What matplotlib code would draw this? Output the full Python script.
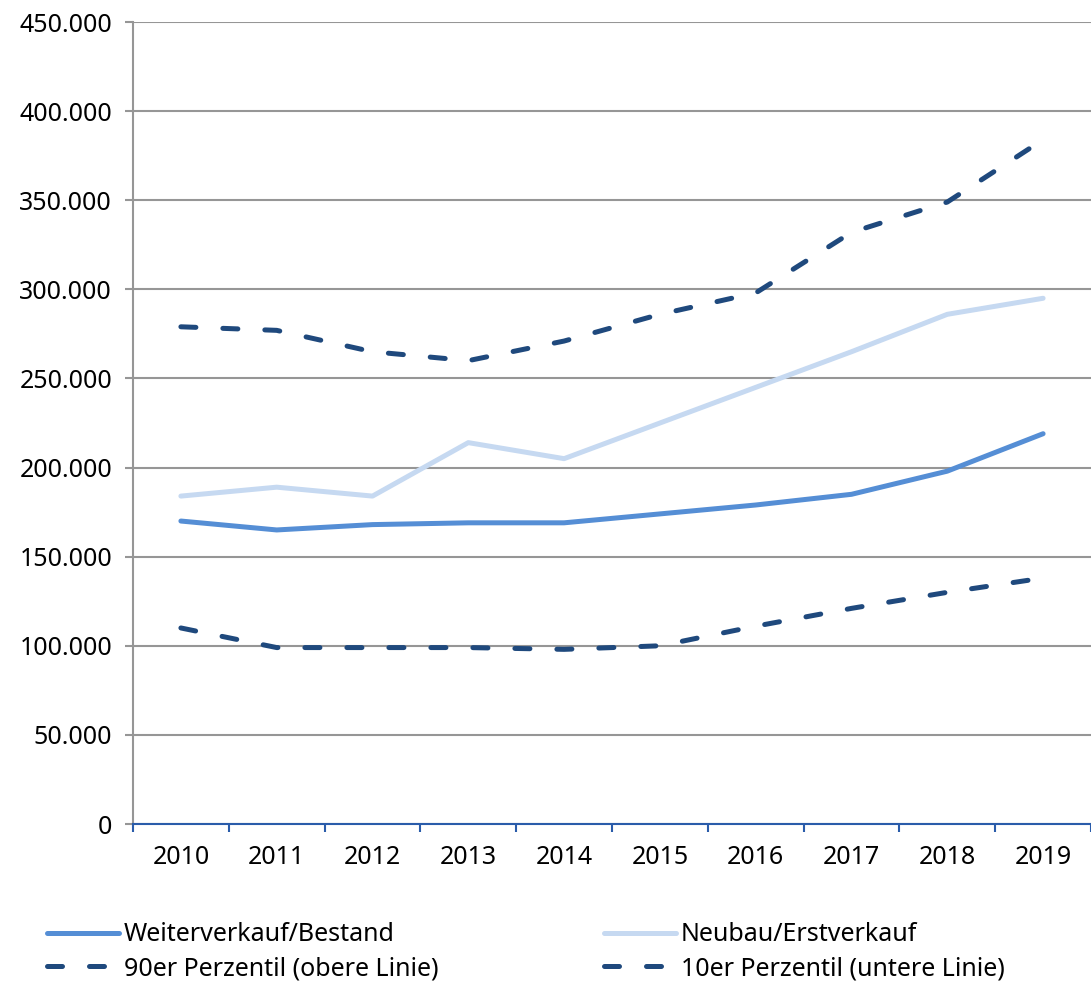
import numpy as np
import matplotlib.pyplot as plt
from matplotlib.ticker import FuncFormatter

plt.rcParams['font.family'] = ['Noto Sans', 'DejaVu Sans']

years = ['2010', '2011', '2012', '2013', '2014', '2015', '2016', '2017', '2018', '2019']
weiterverkauf = [170000, 165000, 168000, 169000, 169000, 174000, 179000, 185000, 198000, 219000]
neubau = [184000, 189000, 184000, 214000, 205000, 225000, 245000, 265000, 286000, 295000]
p90 = [279000, 277000, 265000, 260000, 271000, 286000, 298000, 332000, 349000, 384000]
p10 = [110000, 99000, 99000, 99000, 98000, 100000, 111000, 121000, 130000, 138000]

fig = plt.figure(figsize=(10.91, 9.84), dpi=100)
ax = fig.add_axes([0.1219, 0.1626, 0.8781, 0.815])

x = np.arange(len(years))
lw = 3.6
dash = (3, 5.4)
fs = 18

ax.plot(x, weiterverkauf, color='#558ED5', lw=lw, solid_capstyle='round',
        solid_joinstyle='round', label='Weiterverkauf/Bestand', zorder=3)
ax.plot(x, neubau, color='#C6D9F1', lw=lw, solid_capstyle='round',
        solid_joinstyle='round', label='Neubau/Erstverkauf', zorder=3)
ax.plot(x, p90, color='#1F497D', lw=lw, dashes=dash, dash_capstyle='round',
        label='90er Perzentil (obere Linie)', zorder=3)
ax.plot(x, p10, color='#1F497D', lw=lw, dashes=dash, dash_capstyle='round',
        label='10er Perzentil (untere Linie)', zorder=3)

ax.set_xlim(-0.5, len(years) - 0.5)
ax.set_ylim(0, 450000)
ax.set_yticks(np.arange(0, 450001, 50000))
ax.yaxis.set_major_formatter(FuncFormatter(lambda v, p: f'{int(v):,}'.replace(',', '.')))
ax.yaxis.grid(True, color='#969696', lw=1.5)
ax.set_axisbelow(True)

# category labels centred, ticks between categories
ax.set_xticks(np.arange(-0.5, len(years), 1))
ax.set_xticklabels([])
ax.set_xticks(x, minor=True)
ax.set_xticklabels(years, minor=True)
ax.tick_params(axis='x', which='major', length=6, width=1.5, color='#2A5CAA', direction='out')
ax.tick_params(axis='x', which='minor', length=0, pad=15, labelsize=fs)
ax.tick_params(axis='y', length=6, width=1.5, color='#969696', labelsize=fs, pad=9)

for s in ['top', 'right']:
    ax.spines[s].set_visible(False)
ax.spines['left'].set_color('#969696')
ax.spines['left'].set_linewidth(1.5)
ax.spines['bottom'].set_color('#2A5CAA')
ax.spines['bottom'].set_linewidth(1.5)
ax.spines['bottom'].set_zorder(4)

h, l = ax.get_legend_handles_labels()
order = [0, 2, 1, 3]
fig.legend([h[i] for i in order], [l[i] for i in order], ncol=2, frameon=False,
           loc='lower left', bbox_to_anchor=(0.022, -0.02), fontsize=fs,
           handlelength=2.9, handletextpad=0.2, columnspacing=6.6, labelspacing=0.35)

fig.savefig('out.png', dpi=100)
